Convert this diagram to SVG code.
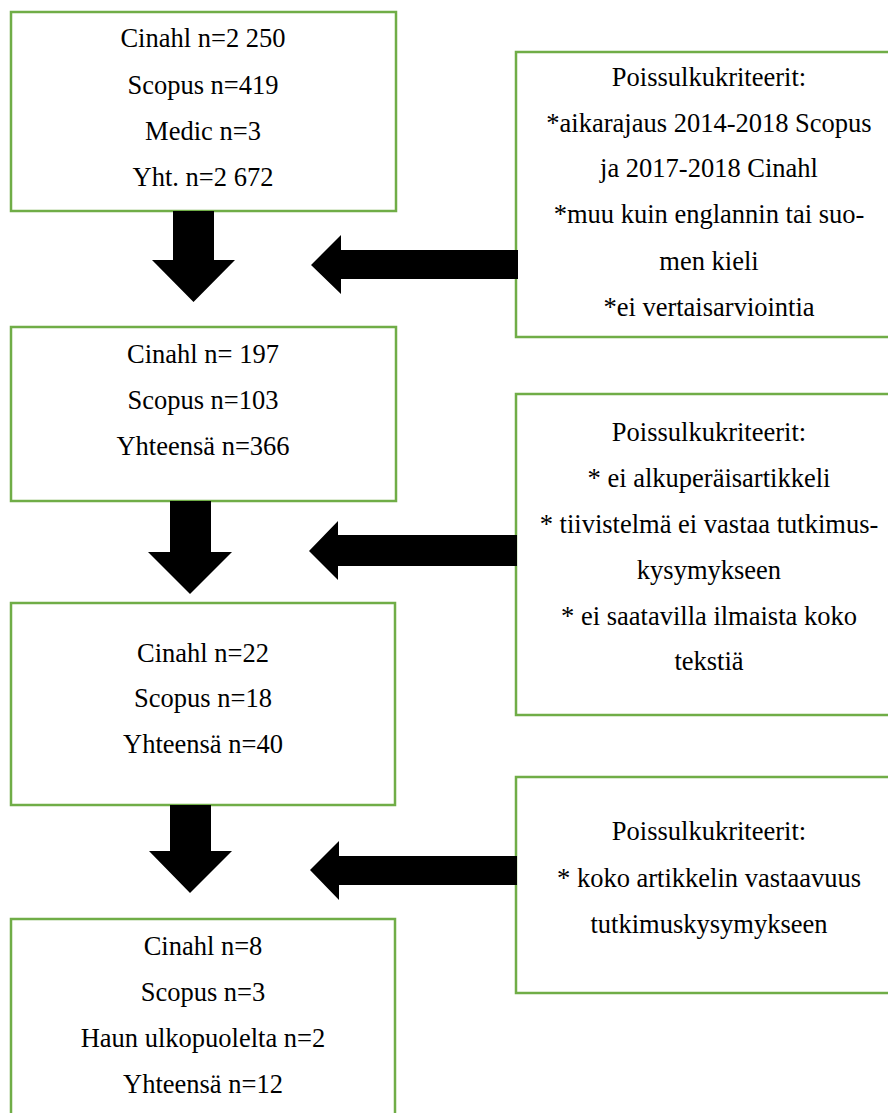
<svg xmlns="http://www.w3.org/2000/svg" width="888" height="1113" viewBox="0 0 888 1113">
<style>
.box{fill:#ffffff;stroke:#70AD47;stroke-width:2.5}
.t{font-size:26.5px;fill:#000;text-anchor:middle}
.arr{fill:#000}
</style>
<rect width="888" height="1113" fill="#ffffff"/>
<g font-family="Liberation Serif, Times New Roman, Times, serif">
<g id="box1">
<rect class="box" x="11" y="12" width="385" height="199"/>
<text class="t" x="203" y="47">Cinahl n=2 250</text>
<text class="t" x="203" y="94">Scopus n=419</text>
<text class="t" x="203" y="140">Medic n=3</text>
<text class="t" x="203" y="186">Yht. n=2 672</text>
</g>
<g id="box2">
<rect class="box" x="11" y="327" width="385" height="174"/>
<text class="t" x="203" y="363">Cinahl n= 197</text>
<text class="t" x="203" y="409">Scopus n=103</text>
<text class="t" x="203" y="455">Yhteensä n=366</text>
</g>
<g id="box3">
<rect class="box" x="11" y="603" width="384" height="202"/>
<text class="t" x="203" y="662">Cinahl n=22</text>
<text class="t" x="203" y="707">Scopus n=18</text>
<text class="t" x="203" y="753">Yhteensä n=40</text>
</g>
<g id="box4">
<rect class="box" x="11" y="919" width="384" height="210"/>
<text class="t" x="203" y="955">Cinahl n=8</text>
<text class="t" x="203" y="1001">Scopus n=3</text>
<text class="t" x="203" y="1047">Haun ulkopuolelta n=2</text>
<text class="t" x="203" y="1093">Yhteensä n=12</text>
</g>
<g id="excl1">
<rect class="box" x="516" y="52" width="390" height="285"/>
<text class="t" x="709" y="86">Poissulkukriteerit:</text>
<text class="t" x="709" y="132">*aikarajaus 2014-2018 Scopus</text>
<text class="t" x="709" y="177">ja 2017-2018 Cinahl</text>
<text class="t" x="709" y="223">*muu kuin englannin tai suo-</text>
<text class="t" x="709" y="270">men kieli</text>
<text class="t" x="709" y="316">*ei vertaisarviointia</text>
</g>
<g id="excl2">
<rect class="box" x="516" y="394" width="390" height="321"/>
<text class="t" x="709" y="441">Poissulkukriteerit:</text>
<text class="t" x="709" y="487">* ei alkuperäisartikkeli</text>
<text class="t" x="709" y="533">* tiivistelmä ei vastaa tutkimus-</text>
<text class="t" x="709" y="579">kysymykseen</text>
<text class="t" x="709" y="625">* ei saatavilla ilmaista koko</text>
<text class="t" x="709" y="670">tekstiä</text>
</g>
<g id="excl3">
<rect class="box" x="516" y="777" width="390" height="216"/>
<text class="t" x="709" y="840">Poissulkukriteerit:</text>
<text class="t" x="709" y="887">* koko artikkelin vastaavuus</text>
<text class="t" x="709" y="933">tutkimuskysymykseen</text>
</g>
</g>
<g id="connectors">
<polygon class="arr" points="173,211 214,211 214,260 235,260 193.5,302 152,260 173,260"/>
<polygon class="arr" points="170,501 211,501 211,552 232,552 190,594 148,552 170,552"/>
<polygon class="arr" points="170,805 211,805 211,851 232,851 190,893 149,851 170,851"/>
<polygon class="arr" points="518,250 518,279 341,279 341,294 311,265 341,235 341,250"/>
<polygon class="arr" points="517,535 517,566 338,566 338,580 309,551 338,521 338,535"/>
<polygon class="arr" points="517,856 517,885 339,885 339,900 310,870 339,841 339,856"/>
</g>
</svg>
